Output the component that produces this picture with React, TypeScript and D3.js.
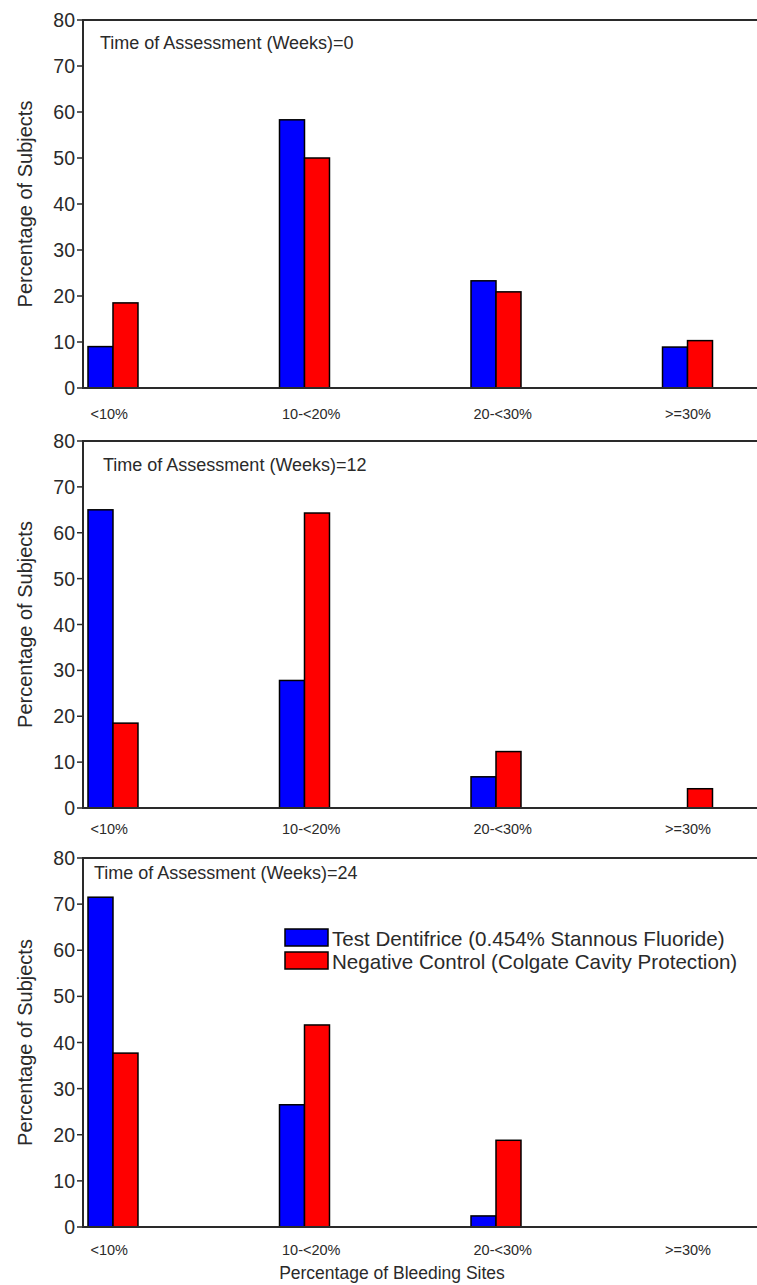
import * as d3 from "d3";

const categories = ["<10%", "10-<20%", "20-<30%", ">=30%"];
const seriesNames = [
  "Test Dentifrice (0.454% Stannous Fluoride)",
  "Negative Control (Colgate Cavity Protection)",
];
const seriesColors = ["#0000ff", "#ff0000"];
const weeks = [0, 12, 24];

// percentage of subjects, one array per series per week
const testWeek0 = [9, 58.3, 23.3, 8.9];
const controlWeek0 = [18.5, 50, 20.9, 10.3];
const testWeek12 = [65, 27.8, 6.8, 0];
const controlWeek12 = [18.5, 64.3, 12.3, 4.2];
const testWeek24 = [71.5, 26.5, 2.4, 0];
const controlWeek24 = [37.7, 43.8, 18.8, 0];

const yTicks = [0, 10, 20, 30, 40, 50, 60, 70, 80];

const panelValues = [
  [testWeek0, controlWeek0],
  [testWeek12, controlWeek12],
  [testWeek24, controlWeek24],
];

const W = 757;
const H = 1285;
const axisX = 83;
const font = "'Liberation Sans', Arial, sans-serif";
const ink = "#2a2a2a";

// vertical layout of each panel
const panels = [
  { top: 20, bottom: 388, subX: 100, subDy: 23, labelDy: 26 },
  { top: 441, bottom: 808, subX: 103, subDy: 24, labelDy: 21 },
  { top: 858, bottom: 1227, subX: 94, subDy: 15, labelDy: 23 },
];

const x = d3
  .scaleBand<string>()
  .domain(categories)
  .range([88, 712.5])
  .paddingInner(0.739)
  .paddingOuter(0);

const xInner = d3
  .scaleBand<number>()
  .domain([0, 1])
  .range([0, x.bandwidth()]);

function Panel({ index }: { index: number }) {
  const p = panels[index];
  const y = d3.scaleLinear().domain([0, 80]).range([p.bottom, p.top]);
  const values = panelValues[index];

  return (
    <g>
      {values.map((series, s) =>
        series.map((v, i) =>
          v > 0 ? (
            <rect
              key={`${s}-${i}`}
              x={x(categories[i])! + xInner(s)!}
              y={y(v)}
              width={xInner.bandwidth()}
              height={y(0) - y(v)}
              fill={seriesColors[s]}
              stroke="#000"
              strokeWidth={1.5}
            />
          ) : null
        )
      )}

      {/* frame: left axis, top edge, baseline */}
      <line x1={axisX} x2={axisX} y1={y(80)} y2={y(0)} stroke={ink} strokeWidth={2} />
      <line x1={axisX - 1} x2={W + 5} y1={y(80)} y2={y(80)} stroke={ink} strokeWidth={2} />
      <line x1={axisX - 1} x2={W + 5} y1={y(0)} y2={y(0)} stroke={ink} strokeWidth={2} />

      {yTicks.map((t) => (
        <g key={t}>
          <line x1={axisX - 6} x2={axisX} y1={y(t)} y2={y(t)} stroke={ink} strokeWidth={1.5} />
          <text
            x={axisX - 8}
            y={y(t)}
            dy="0.36em"
            textAnchor="end"
            fontSize={19.5}
            fill={ink}
          >
            {t}
          </text>
        </g>
      ))}

      {categories.map((c) => (
        <text
          key={c}
          x={x(c)! + 2.5}
          y={p.bottom + p.labelDy}
          dy="0.35em"
          fontSize={14.5}
          fill={ink}
        >
          {c}
        </text>
      ))}

      <text x={p.subX} y={p.top + p.subDy} dy="0.35em" fontSize={18} fill={ink}>
        {`Time of Assessment (Weeks)=${weeks[index]}`}
      </text>

      <text
        transform={`translate(25,${(p.top + p.bottom) / 2}) rotate(-90)`}
        dy="0.35em"
        textAnchor="middle"
        fontSize={20}
        fill={ink}
      >
        Percentage of Subjects
      </text>
    </g>
  );
}

export default function App() {
  const legendY = [929, 952];
  return (
    <svg
      width={W}
      height={H}
      style={{ position: "absolute", left: 0, top: 0, background: "#fff" }}
      fontFamily={font}
    >
      <rect width={W} height={H} fill="#fff" />
      {panels.map((_, i) => (
        <Panel key={i} index={i} />
      ))}

      {seriesNames.map((name, s) => (
        <g key={name}>
          <rect
            x={285}
            y={legendY[s]}
            width={43}
            height={17}
            fill={seriesColors[s]}
            stroke="#000"
            strokeWidth={1.5}
          />
          <text x={332} y={legendY[s] + 9.5} dy="0.35em" fontSize={20.6} fill={ink}>
            {name}
          </text>
        </g>
      ))}

      <text x={392} y={1273} dy="0.35em" textAnchor="middle" fontSize={17.5} fill={ink}>
        Percentage of Bleeding Sites
      </text>
    </svg>
  );
}
